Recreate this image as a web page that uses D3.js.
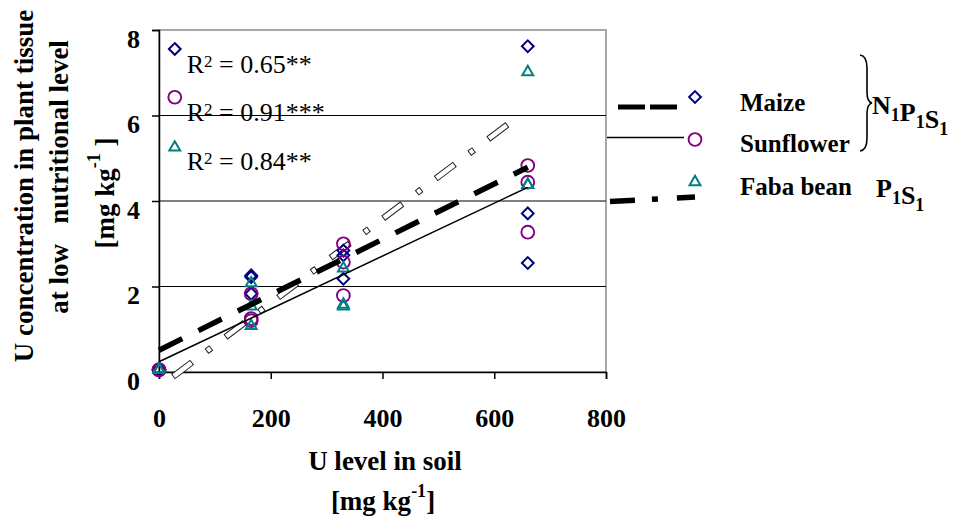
<!DOCTYPE html>
<html>
<head>
<meta charset="utf-8">
<script src="https://cdn.jsdelivr.net/npm/d3@7"></script>
<style>
  body { margin: 0; background: #fff; }
  svg text { font-family: "Liberation Serif", "Times New Roman", serif; }
</style>
</head>
<body>
<div id="chart"></div>
<script>
// U in soil (mg/kg) and the three replicates measured per level
const soilLevels = [0, 165, 330, 660];
const maizeValues = [[0.05, 0.05, 0.05], [2.26, 2.22, 1.83], [2.84, 2.73, 2.18], [7.62, 3.71, 2.55]];
const sunflowerValues = [[0.05, 0.05, 0.05], [1.83, 1.25, 1.20], [3.00, 2.57, 1.79], [4.83, 4.44, 3.27]];
const fabaValues = [[0.08, 0.08, 0.08], [2.10, 1.56, 1.10], [2.45, 1.60, 1.56], [7.04, 4.40, 4.40]];

const maizeFit = [[0, 0.51], [660, 4.79]];
const sunflowerFit = [[0, 0.24], [660, 4.32]];
const fabaFit = [[25, -0.11], [628, 5.83]];

const rSquaredLabels = ["0.65**", "0.91***", "0.84**"];
const rLabelPos = [[30, 7.58], [30, 6.45], [30, 5.30]];   // marker beside each label

const xTicks = [0, 200, 400, 600, 800];
const yTicks = [0, 2, 4, 6, 8];
const gridValues = [2, 4, 6];

const width = 956, height = 522;
const navy = "#000080", purple = "#800080", teal = "#008080";

const svg = d3.select("#chart").append("svg")
  .attr("width", width)
  .attr("height", height)
  .attr("viewBox", [0, 0, width, height]);

const x = d3.scaleLinear().domain([0, 800]).range([159, 606]);
const y = d3.scaleLinear().domain([0, 8]).range([372, 30]);

// plot frame
svg.append("rect")
  .attr("x", x(0)).attr("y", y(8))
  .attr("width", x(800) - x(0)).attr("height", y(0) - y(8))
  .attr("fill", "none").attr("stroke", "#8c8c8c").attr("stroke-width", 1.5);

svg.append("g").selectAll("line")
  .data(gridValues)
  .join("line")
  .attr("x1", x(0)).attr("x2", x(800))
  .attr("y1", d => y(d)).attr("y2", d => y(d))
  .attr("stroke", "#000").attr("stroke-width", 1);

// axes
const yAxis = svg.append("g")
  .attr("transform", `translate(${x(0)},0)`)
  .call(d3.axisLeft(y).tickValues(yTicks).tickSize(7).tickPadding(12).tickFormat(d3.format("d")));
yAxis.select(".domain").attr("stroke", "#000").attr("stroke-width", 1.5);
yAxis.selectAll(".tick line").attr("stroke-width", 1.5);
yAxis.selectAll(".tick text")
  .attr("dy", "0.66em")
  .attr("font-size", 26).attr("font-weight", "bold")
  .attr("font-family", "Liberation Serif");

const xAxis = svg.append("g")
  .attr("transform", `translate(0,${y(0)})`)
  .call(d3.axisBottom(x).tickValues(xTicks).tickSize(7).tickFormat(d3.format("d")));
xAxis.select(".domain").attr("stroke", "#000").attr("stroke-width", 1.5);
xAxis.selectAll(".tick line").attr("stroke-width", 1.5);
xAxis.selectAll(".tick text")
  .attr("y", 55).attr("dy", 0)
  .attr("font-size", 26).attr("font-weight", "bold")
  .attr("font-family", "Liberation Serif");

// axis titles
const xTitle = svg.append("g").attr("font-weight", "bold").attr("text-anchor", "middle");
xTitle.append("text").attr("x", 385).attr("y", 470).attr("font-size", 27).text("U level in soil");
const xUnit = xTitle.append("text").attr("x", 383).attr("y", 510).attr("font-size", 27);
xUnit.append("tspan").text("[mg kg");
xUnit.append("tspan").attr("font-size", 18).attr("dy", -13).text("-1");
xUnit.append("tspan").attr("dy", 13).text("]");

const yTitle = svg.append("g").attr("font-weight", "bold").attr("text-anchor", "middle").attr("font-size", 27);
yTitle.append("text").attr("transform", "translate(33,186) rotate(-90)")
  .text("U concentration in plant tissue");
yTitle.append("text").attr("transform", "translate(68,177) rotate(-90)")
  .style("white-space", "pre")
  .text("at low   nutritional level");
const yUnit = yTitle.append("text").attr("transform", "translate(114,193) rotate(-90)");
yUnit.append("tspan").text("[mg kg");
yUnit.append("tspan").attr("font-size", 18).attr("dy", -14).text("-1");
yUnit.append("tspan").attr("dy", 14).style("white-space", "pre").text(" ]");

// markers
const diamond = d3.symbol().type(d3.symbolDiamond2).size(88);
const triangle = d3.symbol().type(d3.symbolTriangle2).size(85);

function drawMarker(g, kind, px, py) {
  if (kind === "circle") {
    g.append("circle").attr("cx", px).attr("cy", py).attr("r", 6.4)
      .attr("fill", "none").attr("stroke", purple).attr("stroke-width", 1.9);
  } else if (kind === "diamond") {
    g.append("path").attr("d", diamond).attr("transform", `translate(${px},${py})`)
      .attr("fill", "none").attr("stroke", navy).attr("stroke-width", 2);
  } else {
    g.append("path").attr("d", triangle).attr("transform", `translate(${px},${py + 1})`)
      .attr("fill", "none").attr("stroke", teal).attr("stroke-width", 2);
  }
}

// faba bean fit: thick dash-dot drawn hollow, as in the original
const line = d3.line().x(d => x(d[0])).y(d => y(d[1]));
svg.append("path").datum(fabaFit).attr("d", line)
  .attr("fill", "none").attr("stroke", "#222").attr("stroke-width", 6.5)
  .attr("stroke-dasharray", "24,18,6,17.8");
svg.append("path").datum(fabaFit).attr("d", line)
  .attr("fill", "none").attr("stroke", "#fff").attr("stroke-width", 4.5)
  .attr("stroke-dasharray", "22,20,4,19.8")
  .attr("stroke-dashoffset", -1);

const series = [
  { kind: "diamond", values: maizeValues },
  { kind: "circle", values: sunflowerValues },
  { kind: "triangle", values: fabaValues }
];
const pts = svg.append("g");
series.forEach(s => {
  s.values.forEach((reps, i) => {
    reps.forEach(v => drawMarker(pts, s.kind, x(soilLevels[i]), y(v)));
  });
});

svg.append("path").datum(maizeFit).attr("d", line)
  .attr("fill", "none").attr("stroke", "#000").attr("stroke-width", 5.5)
  .attr("stroke-dasharray", "26,18");
svg.append("path").datum(sunflowerFit).attr("d", line)
  .attr("fill", "none").attr("stroke", "#000").attr("stroke-width", 1.5);

// R² annotations
const rG = svg.append("g").attr("font-size", 26);
rSquaredLabels.forEach((lab, i) => {
  const [lx, ly] = rLabelPos[i];
  drawMarker(rG, series[i].kind, x(lx) - 1, y(ly) + 1);
  const t = rG.append("text").attr("x", x(lx) + 11).attr("y", y(ly) + 25);
  t.append("tspan").text("R");
  t.append("tspan").attr("font-size", 17).attr("dy", -6).text("2");
  t.append("tspan").attr("dy", 6).style("white-space", "pre").text(" = " + lab);
});

// legend
const leg = svg.append("g");
leg.append("line").attr("x1", 618).attr("x2", 679).attr("y1", 107).attr("y2", 107)
  .attr("stroke", "#000").attr("stroke-width", 5).attr("stroke-dasharray", "27,5");
leg.append("line").attr("x1", 607).attr("x2", 684).attr("y1", 137.5).attr("y2", 137.5)
  .attr("stroke", "#000").attr("stroke-width", 1.6);
leg.append("line").attr("x1", 610).attr("x2", 695).attr("y1", 201.5).attr("y2", 197)
  .attr("stroke", "#000").attr("stroke-width", 5.5).attr("stroke-dasharray", "25,17,6,19");

drawMarker(leg, "diamond", 695, 97);
drawMarker(leg, "circle", 695, 139.5);
drawMarker(leg, "triangle", 695, 181);

const legText = leg.append("g").attr("font-size", 25).attr("font-weight", "bold");
legText.append("text").attr("x", 740).attr("y", 111).text("Maize");
legText.append("text").attr("x", 740).attr("y", 151.5).text("Sunflower");
legText.append("text").attr("x", 740).attr("y", 195).text("Faba bean");

leg.append("path")
  .attr("d", "M860,55 Q867,56 867,68 L867,92 Q867,102 872,103 Q867,104 867,114 L867,138 Q867,150 860,151")
  .attr("fill", "none").attr("stroke", "#000").attr("stroke-width", 1.6);

function treatment(parts, tx, ty) {
  const t = legText.append("text").attr("x", tx).attr("y", ty).attr("font-size", 26);
  parts.forEach(p => {
    t.append("tspan").text(p);
    t.append("tspan").attr("font-size", 18).attr("dy", 7).text("1");
    t.append("tspan").attr("dy", -7).text("");
  });
}
treatment(["N", "P", "S"], 872, 114);
treatment(["P", "S"], 876, 197);
</script>
</body>
</html>
